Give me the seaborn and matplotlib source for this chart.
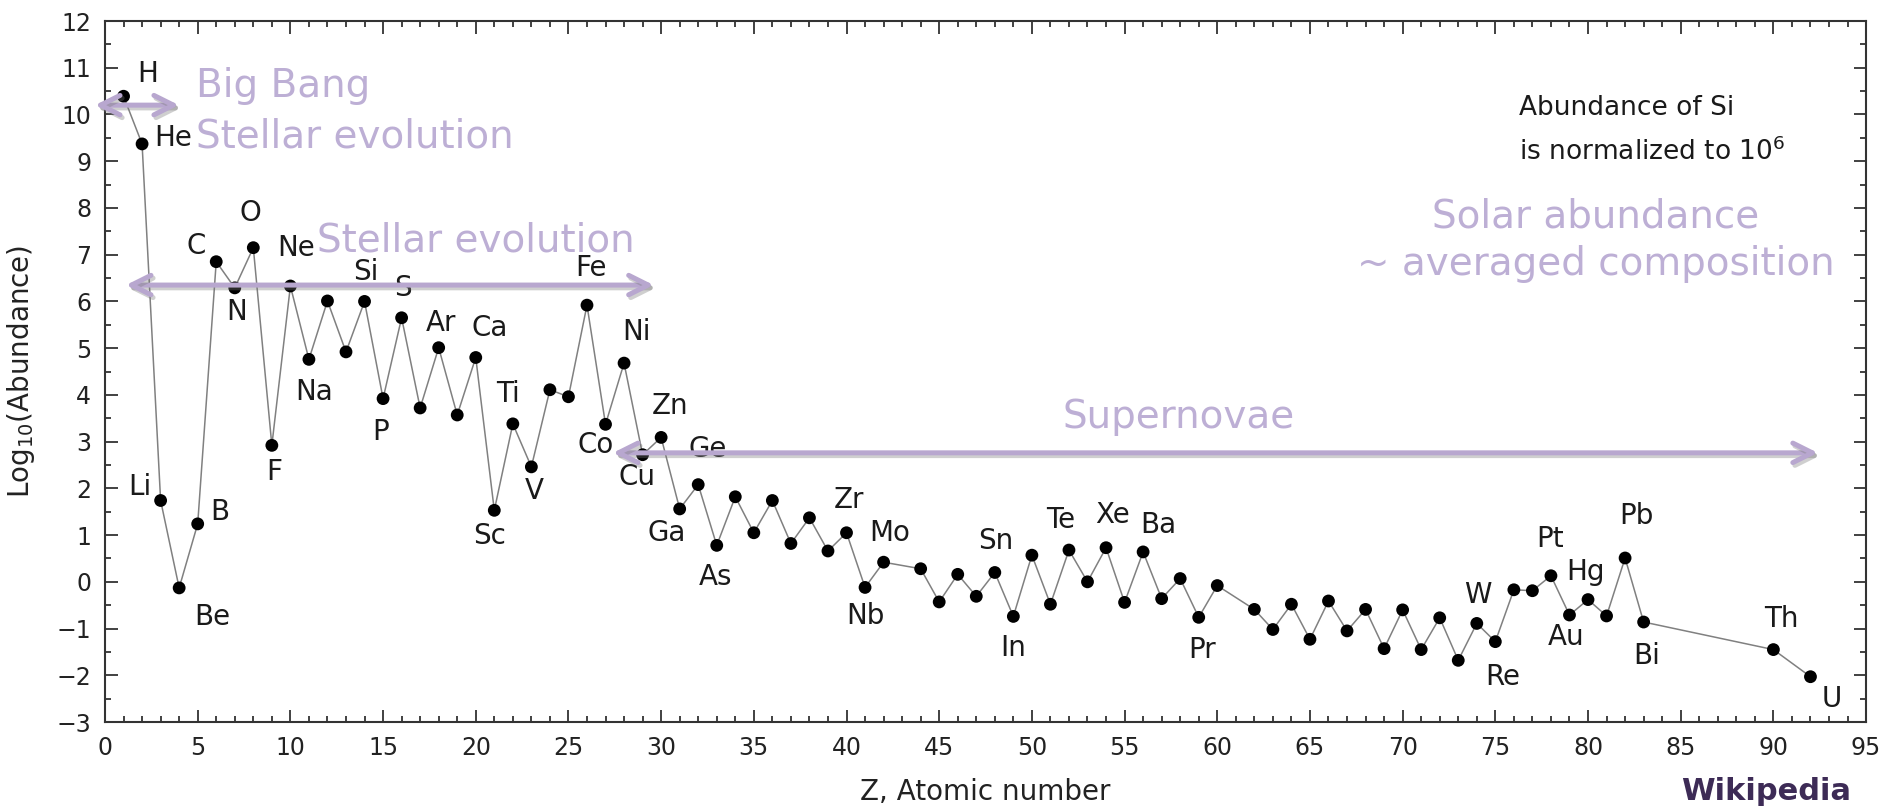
import matplotlib
matplotlib.use("Agg")
import matplotlib.pyplot as plt
import matplotlib.patheffects as pe
from matplotlib.ticker import MultipleLocator
import numpy as np
import pandas as pd
import seaborn as sns

# ---------------- data ----------------
atomic_number = [1, 2, 3, 4, 5, 6, 7, 8, 9, 10,
                 11, 12, 13, 14, 15, 16, 17, 18, 19, 20,
                 21, 22, 23, 24, 25, 26, 27, 28, 29, 30,
                 31, 32, 33, 34, 35, 36, 37, 38, 39, 40,
                 41, 42, 44, 45, 46, 47, 48, 49, 50,
                 51, 52, 53, 54, 55, 56, 57, 58, 59, 60,
                 62, 63, 64, 65, 66, 67, 68, 69, 70,
                 71, 72, 73, 74, 75, 76, 77, 78, 79, 80,
                 81, 82, 83, 90, 92]
log_abundance = [10.39, 9.37, 1.74, -0.13, 1.24, 6.85, 6.29, 7.15, 2.92, 6.33,
                 4.76, 6.01, 4.92, 6.00, 3.92, 5.65, 3.72, 5.01, 3.57, 4.80,
                 1.53, 3.38, 2.46, 4.11, 3.96, 5.92, 3.37, 4.68, 2.72, 3.09,
                 1.56, 2.08, 0.78, 1.82, 1.05, 1.74, 0.82, 1.37, 0.66, 1.05,
                 -0.12, 0.42, 0.28, -0.43, 0.16, -0.31, 0.20, -0.74, 0.57,
                 -0.48, 0.68, 0.00, 0.73, -0.44, 0.64, -0.36, 0.07, -0.76, -0.08,
                 -0.59, -1.02, -0.48, -1.23, -0.41, -1.05, -0.59, -1.43, -0.60,
                 -1.45, -0.77, -1.68, -0.89, -1.28, -0.17, -0.19, 0.13, -0.71, -0.38,
                 -0.73, 0.51, -0.86, -1.45, -2.03]

label_symbols = ["H", "He", "Li", "Be", "B", "C", "N", "O", "F", "Ne", "Na", "Si",
                 "P", "S", "Ar", "Ca", "Sc", "Ti", "V", "Fe", "Co", "Ni", "Cu",
                 "Zn", "Ga", "Ge", "As", "Zr", "Nb", "Mo", "Sn", "In", "Te", "Xe",
                 "Ba", "Pr", "W", "Re", "Pt", "Au", "Hg", "Pb", "Bi", "Th", "U"]
label_anchor_z = [1, 2, 3, 4, 5, 6, 7, 8, 9, 10, 11, 14,
                  15, 16, 18, 20, 21, 22, 23, 26, 27, 28, 29,
                  30, 31, 32, 33, 40, 41, 42, 48, 49, 52, 54,
                  56, 59, 74, 75, 78, 79, 80, 82, 83, 90, 92]

# ---------------- layout (pixel offsets of label centres from their points) ----
label_offsets = [(24, -22), (31, -6), (-21, -14), (33, 29), (22, -12), (-20, -16),
                 (2, 24), (-3, -35), (2, 27), (6, -38), (5, 33), (1, -29),
                 (-2, 33), (1, -30), (2, -25), (14, -29), (-5, 26), (-5, -30),
                 (3, 24), (4, -37), (-10, 21), (12, -31), (-6, 22),
                 (9, -31), (-13, 24), (9, -36), (-1, 32), (2, -33), (0, 29),
                 (6, -29), (1, -31), (0, 32), (-8, -30), (7, -33),
                 (15, -27), (3, 33), (1, -28), (7, 35), (-1, -37), (-3, 22),
                 (-3, -28), (11, -42), (3, 34), (8, -31), (21, 22)]

lavender = "#BDAFD5"
arrow_col = "#B8A7CF"

df = pd.DataFrame({"Z": atomic_number, "logA": log_abundance})
value_of = dict(zip(atomic_number, log_abundance))

sns.set_theme(style="ticks")
plt.rcParams["font.family"] = ["DejaVu Sans"]

fig = plt.figure(figsize=(18.92, 8.11), dpi=100)
ax = fig.add_axes([0.0555, 0.1097, 0.9308, 0.8644])

sns.lineplot(data=df, x="Z", y="logA", color="#808080", lw=1.1, ax=ax,
             sort=True, zorder=2)
sns.scatterplot(data=df, x="Z", y="logA", color="black", s=85,
                edgecolor="none", ax=ax, zorder=3)

ax.set_xlim(0, 95)
ax.set_ylim(-3, 12)
ax.xaxis.set_major_locator(MultipleLocator(5))
ax.xaxis.set_minor_locator(MultipleLocator(1))
ax.yaxis.set_major_locator(MultipleLocator(1))
ax.yaxis.set_minor_locator(MultipleLocator(0.5))
ax.tick_params(which="both", direction="in", top=True, right=True,
               color="#333333", width=1.3, labelsize=17, labelcolor="#222222")
ax.tick_params(which="major", length=9, pad=10)
ax.tick_params(which="minor", length=4.5)
for sp in ax.spines.values():
    sp.set_color("#333333")
    sp.set_linewidth(1.5)

ax.set_xlabel("Z, Atomic number", fontsize=20, labelpad=13, color="#222222")
ax.set_ylabel("Log$_{10}$(Abundance)", fontsize=20, labelpad=14, color="#222222")

# element labels
for sym, z, (dx, dy) in zip(label_symbols, label_anchor_z, label_offsets):
    ax.annotate(sym, (z, value_of[z]), xytext=(dx, -dy),
                textcoords="offset pixels", ha="center", va="center",
                fontsize=20, color="#1a1a1a", zorder=4)

# note text
ax.text(76.3, 9.99, "Abundance of Si", fontsize=19, ha="left",
        va="baseline", color="#1a1a1a")
ax.text(76.3, 9.03, "is normalized to 10$^6$", fontsize=19, ha="left",
        va="baseline", color="#1a1a1a")

# lavender annotations
ax.text(4.91, 10.37, "Big Bang", fontsize=28, color=lavender, va="baseline")
ax.text(4.91, 9.30, "Stellar evolution", fontsize=28, color=lavender, va="baseline")
ax.text(11.43, 7.06, "Stellar evolution", fontsize=28, color=lavender, va="baseline")
ax.text(80.4, 7.59, "Solar abundance", fontsize=28, color=lavender,
        va="baseline", ha="center")
ax.text(80.4, 6.56, "~ averaged composition", fontsize=28, color=lavender,
        va="baseline", ha="center")
ax.text(57.9, 3.29, "Supernovae", fontsize=28, color=lavender,
        va="baseline", ha="center")

shadow = [pe.SimpleLineShadow(offset=(1.5, -2), shadow_color="#777777", alpha=0.35),
          pe.Normal()]
for x0, x1, y in [(-0.54, 3.99, 10.20), (1.13, 29.6, 6.35), (27.4, 92.4, 2.76)]:
    ax.annotate("", xy=(x1, y), xytext=(x0, y), annotation_clip=False,
                arrowprops=dict(arrowstyle="<->,head_length=0.7,head_width=0.35",
                                lw=3.6, color=arrow_col, mutation_scale=20,
                                shrinkA=0, shrinkB=0, path_effects=shadow),
                zorder=5)

fig.text(1766 / 1892, 1 - 792 / 811, "Wikipedia", fontsize=22, fontweight="bold",
         color="#3D2B56", ha="center", va="center")

fig.savefig("out.png", dpi=100)
